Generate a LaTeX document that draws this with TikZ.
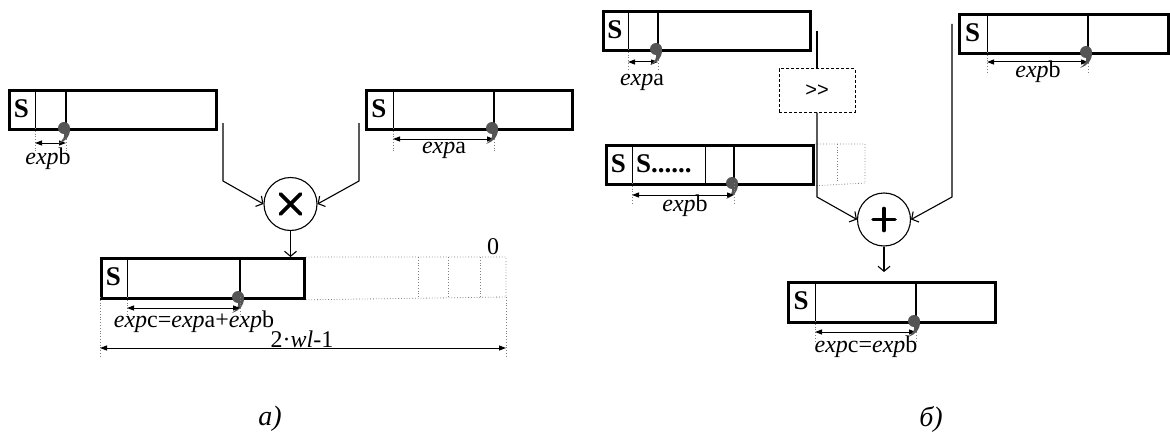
\documentclass[tikz,border=0pt]{standalone}
\usepackage{fontspec}
\setmainfont{Liberation Serif}
\newfontfamily\arialf{Liberation Sans}
\usetikzlibrary{arrows.meta,calc}
\definecolor{commacol}{HTML}{555555}
\tikzset{
  reg/.style={draw, line width=2.8pt, rectangle, inner sep=0pt, minimum height=39pt, anchor=north west},
  thindiv/.style={line width=0.9pt},
  bolddiv/.style={line width=2.8pt},
  ext/.style={draw=gray, dotted, line width=0.8pt},
  plainline/.style={line width=1.1pt},
  conn/.style={line width=1.1pt, -{Straight Barb[length=5pt,width=12pt]}},
  dim/.style={line width=1pt, {Triangle[length=7pt,width=5pt]}-{Triangle[length=7pt,width=5pt]}},
  lbl/.style={font=\fontsize{24}{26}\selectfont, inner sep=0pt},
  sbit/.style={font=\fontsize{27}{29}\selectfont\bfseries, inner sep=0pt},
  op/.style={draw, circle, line width=1.1pt, minimum size=53pt, inner sep=0pt},
  opsym/.style={line width=3.6pt, line cap=round},
  captxt/.style={font=\fontsize{28}{30}\selectfont\itshape, inner sep=0pt},
  shiftbox/.style={draw, densely dashed, line width=1pt, minimum width=76pt, minimum height=43pt, inner sep=0pt, font=\arialf\fontsize{20}{22}\selectfont},
  commamark/.pic={
    \fill[commacol] (-2,0) circle (6pt);
    \fill[commacol] (3.9,1) .. controls (4,9) and (0,13) .. (-8,16) .. controls (-3,12) and (-1,9) .. (-2,5) -- cycle;
  }
}
\begin{document}
\begin{tikzpicture}[x=1pt,y=-1pt]
\useasboundingbox (0,0) rectangle (1170,436);
%%%%%%%%%%%%%%%% a)
% register A1
\node[reg, minimum width=207pt] (rA1) at (8,89) {};
\draw[thindiv] (35,89) -- (35,128);
\draw[bolddiv] (66,89) -- (66,128);
\node[sbit] (sA1t) at (21.5,108.5) {S};
\draw[ext] (35,128) -- (35,152);
\draw[ext] (66,128) -- (66,152);
\draw[dim] (35,143) -- (66,143);
\pic at (66,128) {commamark};
\node[lbl] (lA1) at (48,159) {\textit{exp}b};
% register A2
\node[reg, minimum width=206pt] (rA2) at (365,89) {};
\draw[thindiv] (393,89) -- (393,128);
\draw[bolddiv] (494,89) -- (494,128);
\node[sbit] (sA2t) at (379,108.5) {S};
\draw[ext] (393,128) -- (393,152);
\draw[ext] (494,128) -- (494,152);
\draw[dim] (393,139) -- (494,139);
\pic at (494,128) {commamark};
\node[lbl] (lA2) at (444,150) {\textit{exp}a};
% multiplier
\node[op] (mul) at (290.5,204) {};
\draw[opsym] (mul.center) +(-10,-10) -- +(10,10);
\draw[opsym] (mul.center) +(-10,10) -- +(10,-10);
% register C
\node[reg, minimum width=203pt, minimum height=40pt] (rC) at (100,257) {};
\draw[thindiv] (127,257) -- (127,297);
\draw[bolddiv] (240,257) -- (240,297);
\node[sbit] (sCt) at (113.5,277) {S};
\draw[ext] (rC.north east) -- (506,257) -- (506,297) -- (rC.south east);
\draw[ext] (418,257) -- (418,297);
\draw[ext] (448,257) -- (448,297);
\draw[ext] (480,257) -- (480,297);
\node[lbl] (zero) at (493,247) {0};
\pic at (240,297) {commamark};
\draw[ext] (127,297) -- (127,315);
\draw[ext] (240,297) -- (240,315);
\draw[dim] (127,308) -- (240,308);
\node[lbl] (lC) at (194,322) {\textit{exp}c=\textit{exp}a+\textit{exp}b};
\node[lbl] (lW) at (302,339) {2·\textit{wl}-1};
\draw[ext] (100,297) -- (100,356);
\draw[ext] (506,297) -- (506,356);
\draw[dim] (100,348) -- (506,348);
% connectors a)
\coordinate (fA1) at (223,123);
\coordinate (fA2) at (359,123);
\draw[conn] (fA1) -- (223,181) -- (mul.west);
\draw[conn] (fA2) -- (359,181) -- (mul.east);
\draw[conn] (mul.south) -- (mul.south |- rC.north);
\node[captxt] (capA) at (270,419) {а)};
%%%%%%%%%%%%%%%% b)
% register B1
\node[reg, minimum width=207pt] (rB1) at (602,10) {};
\draw[thindiv] (628,10) -- (628,49);
\draw[bolddiv] (658,10) -- (658,49);
\node[sbit] (sB1t) at (615,29.5) {S};
\draw[ext] (628,49) -- (628,70);
\draw[ext] (658,49) -- (658,70);
\draw[dim] (628,62) -- (658,62);
\pic at (658,49) {commamark};
\node[lbl] (lB1) at (642,82) {\textit{exp}a};
% shift box
\node[shiftbox] (shift) at (817,90.5) {>{}>};
% register B2
\node[reg, minimum width=207pt] (rB2) at (605,144) {};
\draw[thindiv] (632,144) -- (632,183);
\draw[thindiv] (705,144) -- (705,183);
\draw[bolddiv] (734,144) -- (734,183);
\node[sbit] (sB2t) at (618.5,163.5) {S};
\node[sbit, anchor=west] (sB2d) at (636,163.5) {S......};
\draw[ext] (rB2.north east) -- (865,144) -- (865,183) -- (rB2.south east);
\draw[ext] (837,144) -- (837,183);
\pic at (734,183) {commamark};
\draw[ext] (632,183) -- (632,205);
\draw[ext] (734,183) -- (734,205);
\draw[dim] (632,195) -- (734,195);
\node[lbl] (lB2) at (685,206) {\textit{exp}b};
% register B3
\node[reg, minimum width=209pt] (rB3) at (958,13) {};
\draw[thindiv] (987,13) -- (987,52);
\draw[bolddiv] (1088,13) -- (1088,52);
\node[sbit] (sB3t) at (972.5,32.5) {S};
\draw[ext] (987,52) -- (987,73);
\draw[ext] (1088,52) -- (1088,73);
\draw[dim] (987,62) -- (1088,62);
\pic at (1088,52) {commamark};
\node[lbl] (lB3) at (1038,72) {\textit{exp}b};
% adder
\node[op] (plus) at (884,219.5) {};
\draw[opsym] (plus.center) +(-11,0) -- +(11,0);
\draw[opsym] (plus.center) +(0,-11) -- +(0,11);
% register B4
\node[reg, minimum width=207pt, minimum height=40pt] (rB4) at (787,281) {};
\draw[thindiv] (815,281) -- (815,321);
\draw[bolddiv] (916,281) -- (916,321);
\node[sbit] (sB4t) at (801,301) {S};
\draw[ext] (815,321) -- (815,343);
\draw[ext] (916,321) -- (916,343);
\draw[dim] (815,332) -- (916,332);
\pic at (916,321) {commamark};
\node[lbl] (lB4) at (866,347) {\textit{exp}c=\textit{exp}b};
% connectors b)
\coordinate (fB1) at (817,31);
\coordinate (fB3) at (952,24);
\draw[plainline] (fB1) -- (shift.north);
\draw[conn] (shift.south) -- (817,197) -- (plus.west);
\draw[conn] (fB3) -- (952,197) -- (plus.east);
\draw[conn, shorten >=9pt] (plus.south) -- (plus.south |- rB4.north);
\node[captxt] (capB) at (931,419) {б)};
\end{tikzpicture}
\end{document}
